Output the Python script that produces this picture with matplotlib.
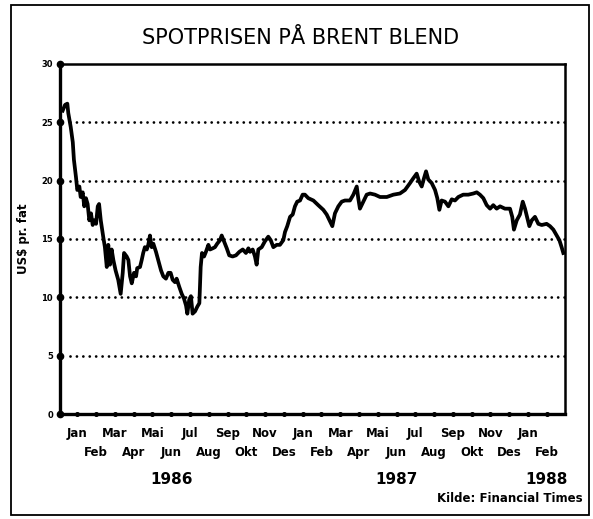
"""
Spotprisen paa Brent Blend, jan 1986 - feb 1988 (Financial Times).
Recreated line chart.
"""

import matplotlib
matplotlib.use("Agg")
import matplotlib.pyplot as plt
from matplotlib.patches import Rectangle

# x = months after Jan 1986 tick (0 = Jan 1986, 25 = Feb 1988)
months = [-0.78, -0.65, -0.53, -0.48, -0.35, -0.24, -0.18, -0.07, 0.00, 0.11,
          0.18, 0.29, 0.37, 0.46, 0.55, 0.64, 0.73, 0.82, 0.91, 1.00,
          1.09, 1.16, 1.25, 1.38, 1.47, 1.57, 1.65, 1.74, 1.83, 1.92,
          2.04, 2.18, 2.31, 2.42, 2.49, 2.63, 2.72, 2.81, 2.90, 3.02,
          3.13, 3.19, 3.34, 3.43, 3.51, 3.60, 3.70, 3.78, 3.87, 3.96,
          4.05, 4.19, 4.31, 4.46, 4.58, 4.72, 4.85, 4.97, 5.08, 5.20,
          5.29, 5.43, 5.56, 5.68, 5.79, 5.86, 5.96, 6.05, 6.14, 6.27,
          6.39, 6.50, 6.57, 6.64, 6.75, 6.85, 6.98, 7.07, 7.21, 7.33,
          7.45, 7.60, 7.69, 7.81, 7.96, 8.09, 8.27, 8.45, 8.63, 8.81,
          8.98, 9.11, 9.20, 9.34, 9.46, 9.55, 9.64, 9.82, 9.99, 10.17,
          10.30, 10.44, 10.62, 10.79, 10.97, 11.06, 11.18, 11.33, 11.47, 11.59,
          11.71, 11.86, 12.00, 12.12, 12.30, 12.57, 12.83, 13.10, 13.28, 13.46,
          13.58, 13.72, 13.90, 14.08, 14.25, 14.52, 14.70, 14.88, 14.96, 15.05,
          15.23, 15.41, 15.59, 15.85, 16.12, 16.48, 16.83, 17.18, 17.45, 17.72,
          17.89, 18.07, 18.21, 18.34, 18.46, 18.57, 18.69, 18.87, 19.05, 19.17,
          19.28, 19.40, 19.58, 19.76, 19.94, 20.11, 20.29, 20.55, 20.82, 21.09,
          21.27, 21.44, 21.62, 21.80, 21.98, 22.15, 22.33, 22.51, 22.77, 23.04,
          23.16, 23.25, 23.40, 23.57, 23.72, 23.84, 23.96, 24.07, 24.20, 24.37,
          24.55, 24.73, 24.99, 25.17, 25.35, 25.53, 25.67, 25.79, 25.88]

price = [26.0, 26.5, 26.6, 25.8, 24.6, 23.3, 21.8, 20.3, 19.2, 19.5,
         18.6, 19.0, 17.8, 18.5, 18.0, 16.6, 17.2, 16.2, 16.6, 16.3,
         17.8, 18.0, 16.6, 15.2, 14.3, 12.6, 14.5, 12.8, 14.1, 13.2,
         12.3, 11.5, 10.3, 12.1, 13.8, 13.5, 13.2, 11.8, 11.2, 12.1,
         11.8, 12.5, 12.6, 13.2, 13.8, 14.3, 14.1, 14.5, 15.3, 14.3,
         14.6, 13.9, 13.2, 12.3, 11.8, 11.6, 12.1, 12.1, 11.5, 11.3,
         11.6, 10.9, 10.3, 9.9, 9.3, 8.6, 9.8, 10.1, 8.6, 8.8,
         9.2, 9.5, 12.6, 13.8, 13.5, 13.9, 14.5, 14.1, 14.2, 14.3,
         14.6, 14.9, 15.3, 14.8, 14.2, 13.6, 13.5, 13.6, 13.9, 14.1,
         13.8, 14.2, 13.9, 14.1, 13.5, 12.8, 14.1, 14.3, 14.8, 15.2,
         14.9, 14.3, 14.5, 14.5, 14.9, 15.6, 16.1, 16.9, 17.1, 17.8,
         18.2, 18.3, 18.8, 18.8, 18.5, 18.3, 17.9, 17.5, 17.1, 16.5,
         16.1, 17.2, 17.8, 18.2, 18.3, 18.3, 18.8, 19.5, 18.5, 17.6,
         18.2, 18.8, 18.9, 18.8, 18.6, 18.6, 18.8, 18.9, 19.2, 19.8,
         20.2, 20.6, 19.9, 19.5, 20.2, 20.8, 20.1, 19.8, 19.2, 18.5,
         17.5, 18.3, 18.2, 17.8, 18.4, 18.3, 18.6, 18.8, 18.8, 18.9,
         19.0, 18.8, 18.5, 17.9, 17.6, 17.9, 17.6, 17.8, 17.6, 17.6,
         16.9, 15.8, 16.6, 17.1, 18.2, 17.6, 16.8, 16.1, 16.6, 16.9,
         16.3, 16.2, 16.3, 16.1, 15.8, 15.3, 14.9, 14.3, 13.8]

month_labels = ["Jan", "Feb", "Mar", "Apr", "Mai", "Jun", "Jul", "Aug", "Sep", "Okt", "Nov", "Des",
                "Jan", "Feb", "Mar", "Apr", "Mai", "Jun", "Jul", "Aug", "Sep", "Okt", "Nov", "Des",
                "Jan", "Feb"]
year_labels = ["1986", "1987", "1988"]
year_pos = [5, 17, 25]
y_ticks = [0, 5, 10, 15, 20, 25, 30]
grid_levels = [5, 10, 15, 20, 25]

fig = plt.figure(figsize=(5.93, 5.19), dpi=100)
ax = fig.add_axes([0.1012, 0.2023, 0.8516, 0.6744])

# outer frame round the whole chart
fig.patches.append(Rectangle((0.019, 0.008), 0.974, 0.983, transform=fig.transFigure,
                             fill=False, edgecolor="black", linewidth=1.3))

ax.plot(months, price, color="black", linewidth=2.7, solid_joinstyle="round", zorder=3)

for lev in grid_levels:
    ax.axhline(lev, xmin=0.02, color="black", linewidth=2.0, dashes=(0.01, 2.3),
               dash_capstyle="round", zorder=1)

ax.set_xlim(-0.92, 25.97)
ax.set_ylim(0, 30)

for side in ["left", "bottom"]:
    ax.spines[side].set_linewidth(2.4)
for side in ["top", "right"]:
    ax.spines[side].set_linewidth(1.8)

ax.set_xticks([])
ax.set_yticks(y_ticks)
ax.set_yticklabels([str(v) for v in y_ticks], fontsize=6, fontweight="bold")
ax.tick_params(axis="y", length=0, pad=5)

# dots on the axes
ax.plot([ax.get_xlim()[0]] * len(y_ticks), y_ticks, "o", color="black", markersize=4.5,
        clip_on=False, zorder=4)
ax.plot(range(len(month_labels)), [0] * len(month_labels), "o", color="black",
        markersize=2.6, clip_on=False, zorder=4)

trans = ax.get_xaxis_transform()
for i, lab in enumerate(month_labels):
    ypos = -0.057 if i % 2 == 0 else -0.111
    ax.text(i, ypos, lab, transform=trans, ha="center", va="center",
            fontsize=8.5, fontweight="bold")
for pos, lab in zip(year_pos, year_labels):
    ax.text(pos, -0.186, lab, transform=trans, ha="center", va="center",
            fontsize=11, fontweight="bold")

ax.set_ylabel("US$ pr. fat", fontsize=8.5, fontweight="bold", labelpad=8)

fig.text(0.507, 0.927, "SPOTPRISEN PÅ BRENT BLEND", ha="center", va="center", fontsize=15)
fig.text(0.982, 0.039, "Kilde: Financial Times", ha="right", va="center",
         fontsize=8.5, fontweight="bold")

fig.savefig("out.png", dpi=100)
